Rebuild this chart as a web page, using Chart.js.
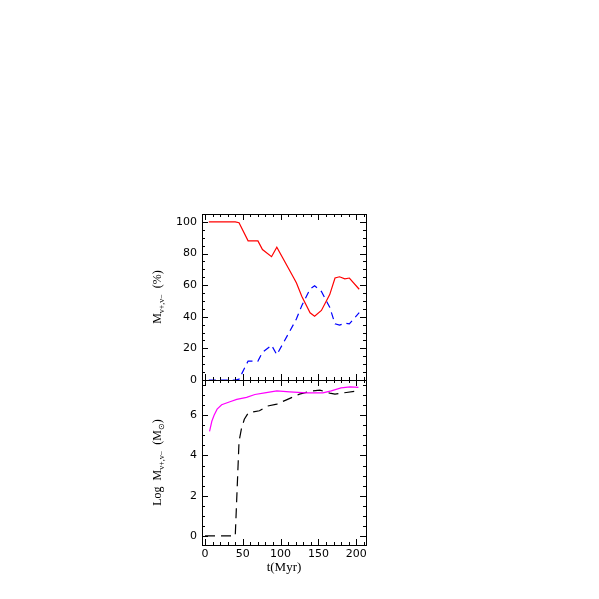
<!DOCTYPE html>
<html><head><meta charset="utf-8">
<script src="https://cdn.jsdelivr.net/npm/chart.js@4/dist/chart.umd.min.js"></script>
<style>
html,body{margin:0;padding:0;background:#fff;}
.w{position:absolute;left:0;top:0;width:599px;height:599px;}
</style>
</head><body>
<div class="w"><canvas id="c1" width="599" height="599"></canvas></div>
<div class="w"><canvas id="c2" width="599" height="599"></canvas></div>
<script>
// ---- data ----
const timesPct   = [5, 40, 45, 57, 70, 76, 88, 95, 110, 118, 121, 128, 139, 145, 154, 165, 172, 178, 185, 191, 204];
const redPct     = [100, 100, 99.5, 88, 88, 82.5, 78, 84, 71, 64, 61.3, 53, 42.5, 40.4, 44, 54, 64.5, 65.3, 64, 64.5, 57.4];
const bluePct    = [0, 0, 0.5, 12, 12, 17.5, 22, 16, 29, 36, 38.7, 47, 57.5, 59.6, 56, 46, 35.5, 34.7, 36, 35.5, 42.6];

const timesMag   = [6, 9, 12, 16, 22, 33, 42, 55, 66, 79, 95, 112, 134, 156, 167, 180, 192, 203];
const magentaLog = [5.2, 5.7, 6.0, 6.3, 6.52, 6.67, 6.79, 6.89, 7.03, 7.11, 7.21, 7.16, 7.11, 7.11, 7.21, 7.36, 7.41, 7.38];

const timesBlk   = [0, 40, 45, 48, 52, 57, 64, 72, 82, 95, 110, 125, 140, 152, 165, 172, 187, 203];
const blackLog   = [0, 0, 4.7, 5.3, 5.8, 6.1, 6.17, 6.22, 6.45, 6.55, 6.8, 7.05, 7.2, 7.25, 7.1, 7.05, 7.13, 7.22];

const xTicks      = [0, 50, 100, 150, 200];
const yTopTicks   = [0, 20, 40, 60, 80, 100];
const yBotTicks   = [0, 2, 4, 6];

const pts = (xs, ys) => xs.map((x, i) => ({x: x, y: ys[i]}));

const tickFont = {family: 'DejaVu Sans', size: 11};

// frame + inward ticks (PGPLOT style), using the chart's own scales
function framePlugin(xMinor, yMinor) {
  return {
    id: 'frame',
    afterDraw(chart) {
      const {ctx, chartArea: a, scales} = chart;
      const xs = scales.x, ys = scales.y;
      ctx.save();
      ctx.strokeStyle = '#000';
      ctx.lineWidth = 1;
      ctx.strokeRect(a.left + 0.5, a.top + 0.5, a.right - a.left, a.bottom - a.top);
      ctx.beginPath();
      for (let v = Math.ceil(xs.min / xMinor) * xMinor; v <= xs.max; v += xMinor) {
        const p = Math.round(xs.getPixelForValue(v)) + 0.5;
        const major = Math.abs(v % 50) < 1e-6;
        const L = major ? 6 : 3;
        ctx.moveTo(p, a.bottom); ctx.lineTo(p, a.bottom - L);
        ctx.moveTo(p, a.top); ctx.lineTo(p, a.top + L);
      }
      const yMajor = chart.options.yMajorStep;
      for (let v = Math.ceil(ys.min / yMinor) * yMinor; v <= ys.max + 1e-9; v += yMinor) {
        const p = Math.round(ys.getPixelForValue(v)) + 0.5;
        const r = v / yMajor;
        const major = Math.abs(r - Math.round(r)) < 1e-6;
        const L = major ? 6 : 3;
        ctx.moveTo(a.left, p); ctx.lineTo(a.left + L, p);
        ctx.moveTo(a.right, p); ctx.lineTo(a.right - L, p);
      }
      ctx.stroke();
      const parts = chart.options.yTitleParts;
      ctx.translate(158, (a.top + a.bottom) / 2);
      ctx.rotate(-Math.PI / 2);
      ctx.fillStyle = '#000';
      ctx.textBaseline = 'middle';
      let total = 0;
      const measure = [];
      for (const [txt, sub] of parts) {
        ctx.font = (sub ? '8px' : '12px') + ' "Liberation Serif"';
        const w = ctx.measureText(txt).width;
        measure.push(w); total += w;
      }
      let x = -total / 2;
      parts.forEach(([txt, sub], i) => {
        ctx.font = (sub ? '8px' : '12px') + ' "Liberation Serif"';
        ctx.fillText(txt, x, sub ? 4 : 0);
        x += measure[i];
      });
      ctx.restore();
    }
  };
}

const commonX = (showLabels) => ({
  type: 'linear', min: -4, max: 213,
  display: showLabels,
  grid: {display: false, drawTicks: false},
  border: {display: false},
  afterBuildTicks: s => { s.ticks = xTicks.map(v => ({value: v})); },
  afterFit: s => { if (showLabels) s.height = 30; },
  ticks: {color: '#000', font: tickFont, padding: 3, maxRotation: 0},
  title: {display: showLabels, text: 't(Myr)', color: '#000',
          font: {family: 'Liberation Serif', size: 13}, padding: {top: 1, bottom: 0}}
});

new Chart(document.getElementById('c1'), {
  type: 'line',
  data: {datasets: [
    {data: pts(timesPct, redPct), borderColor: '#ff0000', borderWidth: 1.2, pointRadius: 0, fill: false, tension: 0},
    {data: pts(timesPct, bluePct), borderColor: '#0000ff', borderWidth: 1.2, borderDash: [7, 5], pointRadius: 0, fill: false, tension: 0}
  ]},
  options: {
    responsive: false, animation: false,
    yMajorStep: 20,
    yTitleParts: [['M', false], ['v+,v\u2212', true], ['  (%)', false]],
    layout: {padding: {left: 162, right: 233, top: 214, bottom: 219}},
    plugins: {legend: {display: false}, tooltip: {enabled: false}},
    scales: {
      x: commonX(false),
      y: {type: 'linear', min: 0, max: 105,
          grid: {display: false, drawTicks: false}, border: {display: false},
          afterBuildTicks: s => { s.ticks = yTopTicks.map(v => ({value: v})); },
          afterFit: s => { s.width = 40; },
          ticks: {color: '#000', font: tickFont, padding: 5}}
    }
  },
  plugins: [framePlugin(10, 5)]
});

new Chart(document.getElementById('c2'), {
  type: 'line',
  data: {datasets: [
    {data: pts(timesMag, magentaLog), borderColor: '#ff00ff', borderWidth: 1.2, pointRadius: 0, fill: false, tension: 0},
    {data: pts(timesBlk, blackLog), borderColor: '#000000', borderWidth: 1.2, borderDash: [10, 6], pointRadius: 0, fill: false, tension: 0}
  ]},
  options: {
    responsive: false, animation: false,
    yMajorStep: 2,
    yTitleParts: [['Log  M', false], ['v+,v\u2212', true], ['  (M', false], ['\u2299', true], [')', false]],
    layout: {padding: {left: 162, right: 233, top: 380, bottom: 24}},
    plugins: {legend: {display: false}, tooltip: {enabled: false}},
    scales: {
      x: commonX(true),
      y: {type: 'linear', min: -0.45, max: 7.75,
          grid: {display: false, drawTicks: false}, border: {display: false},
          afterBuildTicks: s => { s.ticks = yBotTicks.map(v => ({value: v})); },
          afterFit: s => { s.width = 40; },
          ticks: {color: '#000', font: tickFont, padding: 5}}
    }
  },
  plugins: [framePlugin(10, 0.5)]
});
</script>
</body></html>
